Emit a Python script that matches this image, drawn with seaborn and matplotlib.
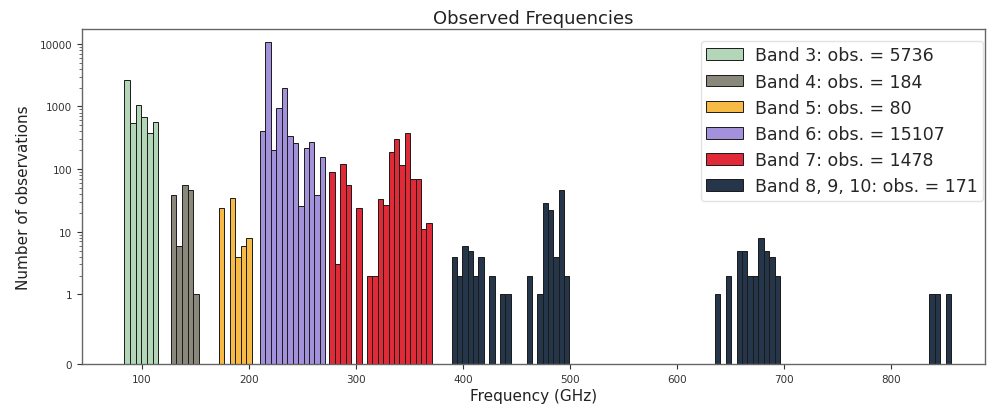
import numpy as np
import pandas as pd
import matplotlib
matplotlib.use("Agg")
import matplotlib.pyplot as plt
from matplotlib.ticker import FixedLocator, FixedFormatter, SymmetricalLogLocator
import seaborn as sns

# ---- data ----
band_labels = [
    "Band 3: obs. = 5736",
    "Band 4: obs. = 184",
    "Band 5: obs. = 80",
    "Band 6: obs. = 15107",
    "Band 7: obs. = 1478",
    "Band 8, 9, 10: obs. = 171",
]
band_colors = ["#b4d6b8", "#8a887a", "#f6ba45", "#a391dc", "#e02a38", "#26364a"]

# each segment: band index, frequency range (GHz), counts per bin
seg_band = [0, 1, 2, 3, 4, 5, 5, 5]
seg_start = [83.75, 127.1, 171.9, 210.5, 275.3, 389.6, 635.3, 835.8]
seg_end = [115.5, 153.5, 202.8, 271.5, 370.9, 499.5, 696.3, 856.1]

band3_counts = [2690, 540, 1050, 670, 375, 560]
band4_counts = [38, 6, 55, 47, 1]
band5_counts = [24, 0, 34, 4, 6, 8]
band6_counts = [400, 10500, 200, 960, 1960, 333, 262, 26, 215, 272, 38, 156]
band7_counts = [91, 3, 120, 55, 0, 24, 0, 2, 2, 33, 27, 190, 302, 117, 370,
                70, 70, 11, 14]
band8_counts = [4, 2, 6, 5, 2, 4, 0, 2, 0, 1, 1, 0, 0, 0, 2, 0, 1, 29, 22, 4,
                47, 2]
band9_counts = [1, 0, 2, 0, 5, 5, 2, 2, 8, 5, 4, 2]
band10_counts = [1, 1, 0, 1]
seg_counts = [band3_counts, band4_counts, band5_counts, band6_counts,
              band7_counts, band8_counts, band9_counts, band10_counts]

y_ticks = [0, 1, 10, 100, 1000, 10000]
y_tick_labels = ["0", "1", "10", "100", "1000", "10000"]
x_ticks = [100, 200, 300, 400, 500, 600, 700, 800]

# ---- figure ----
sns.set_style("white")
plt.rcParams["font.family"] = ["DejaVu Sans"]

fig = plt.figure(figsize=(9.96, 4.06), dpi=100)
ax = fig.add_axes([0.0823, 0.101, 0.9067, 0.825])

labelled = set()
for b, s, e, c in zip(seg_band, seg_start, seg_end, seg_counts):
    n = len(c)
    w = (e - s) / n
    centers = [s + w * (i + 0.5) for i in range(n)]
    df = pd.DataFrame({"freq": centers, "n": c})
    lab = band_labels[b] if b not in labelled else "_nolegend_"
    labelled.add(b)
    sns.histplot(data=df, x="freq", weights="n", bins=n, binrange=(s, e),
                 ax=ax, color=band_colors[b], edgecolor="#1a1a1a",
                 linewidth=0.7, alpha=1.0, label=lab)

ax.set_yscale("symlog", linthresh=1, linscale=1)
ax.set_ylim(0, 17200)
ax.set_xlim(44.2, 887.8)
ax.yaxis.set_major_locator(FixedLocator(y_ticks))
ax.yaxis.set_major_formatter(FixedFormatter(y_tick_labels))
ax.yaxis.set_minor_locator(SymmetricalLogLocator(linthresh=1, base=10,
                                                 subs=np.arange(2, 10)))
ax.set_xticks(x_ticks)
ax.tick_params(axis="both", which="major", labelsize=7.5, colors="#333333",
               length=3.5, width=0.8, direction="out", left=True, bottom=True)
ax.tick_params(axis="y", which="minor", length=2, width=0.6, colors="#555555",
               left=True)

for sp in ax.spines.values():
    sp.set_color("#666666")
    sp.set_linewidth(1.0)

ax.set_xlabel("Frequency (GHz)", fontsize=11, color="#222222", labelpad=3)
ax.set_ylabel("Number of observations", fontsize=11, color="#222222",
              labelpad=6)
ax.set_title("Observed Frequencies", fontsize=13, color="#222222", pad=4)

ax.legend(loc="upper right", bbox_to_anchor=(1.0, 0.97), fontsize=12.5,
          frameon=True, borderpad=0.32, labelspacing=0.47, handlelength=2.1,
          handleheight=0.65, handletextpad=0.7, borderaxespad=0.1,
          framealpha=0.8, edgecolor="#dddddd")

fig.savefig("out.png", dpi=100)
